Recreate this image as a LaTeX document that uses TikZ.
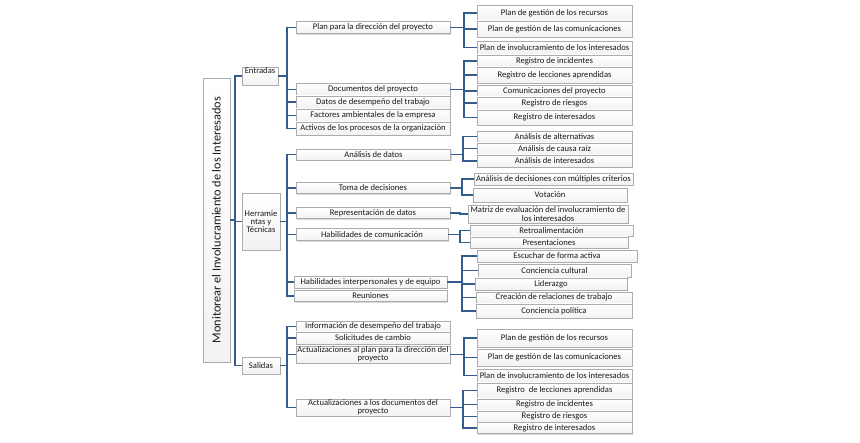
\documentclass[tikz,border=0pt]{standalone}
\usepackage{fontspec}
\usepackage{graphicx}
\setmainfont{Carlito}
\usetikzlibrary{shadows}
\definecolor{linkblue}{RGB}{52,92,140}

\begin{document}
\begin{tikzpicture}[x=1pt, y=-1pt,
    box/.style={draw=gray!65, top color=white, bottom color=gray!10,
        drop shadow={shadow xshift=1.3pt, shadow yshift=-1.3pt, fill=gray!60, opacity=0.5},
        font=\fontsize{8.6}{8.4}\selectfont, text=black!90, inner sep=0.6pt, align=center},
    mid/.style={box, minimum width=154pt},
    leaf/.style={box, minimum width=155pt},
    link/.style={draw=linkblue, line width=1.7pt}]
    \useasboundingbox (0,0) rectangle (860,443);

    % === ROOT (vertical title) ===
    \node[box, minimum width=27pt, minimum height=284pt, font=\fontsize{12.3}{14}\selectfont] (root) at (216.5,220)
        {\rotatebox{90}{Monitorear el Involucramiento de los Interesados}};

    % === LEVEL 1 ===
    \node[box, minimum width=36pt, minimum height=18pt, text height=5.8pt, text depth=10pt] (ent) at (260,76) {Entradas};
    \node[box, minimum width=38pt, minimum height=57pt] (herr) at (261,221.5) {Herramie\\ntas y\\Técnicas};
    \node[box, minimum width=38pt, minimum height=17pt] (sal) at (261,365.5) {Salidas};

    % === ENTRADAS ===
    \node[mid, minimum height=12pt] (pdp) at (373,27.5) {Plan para la dirección del proyecto};
    \node[mid, minimum height=13pt] (docs) at (373,89.5) {Documentos del proyecto};
    \node[mid, minimum height=12pt] (datos) at (373,102) {Datos de desempeño del trabajo};
    \node[mid, minimum height=13pt] (fact) at (373,115.5) {Factores ambientales de la empresa};
    \node[mid, minimum height=13pt] (activ) at (373,128.5) {Activos de los procesos de la organización};

    \node[leaf, minimum height=16pt] (rec1) at (554.5,13) {Plan de gestión de los recursos};
    \node[leaf, minimum height=16pt] (com1) at (554.5,29) {Plan de gestión de las comunicaciones};
    \node[leaf, minimum height=13pt] (inv1) at (554.5,47.5) {Plan de involucramiento de los interesados};
    \node[leaf, minimum height=12pt] (inc1) at (554.5,61) {Registro de incidentes};
    \node[leaf, minimum height=16pt] (lec1) at (554.5,75) {Registro de lecciones aprendidas};
    \node[leaf, minimum height=12pt] (comp) at (554.5,91) {Comunicaciones del proyecto};
    \node[leaf, minimum height=12pt] (rie1) at (554.5,103) {Registro de riesgos};
    \node[leaf, minimum height=15pt] (int1) at (554.5,117.5) {Registro de interesados};

    % === HERRAMIENTAS Y TECNICAS ===
    \node[mid, minimum height=11pt] (adat) at (373.5,154.5) {Análisis de datos};
    \node[mid, minimum height=11pt] (toma) at (373,188) {Toma de decisiones};
    \node[mid, minimum height=11pt] (repr) at (373,213) {Representación de datos};
    \node[mid, minimum width=152pt, minimum height=12pt] (hcom) at (372,234.5) {Habilidades de comunicación};
    \node[mid, minimum width=153pt, minimum height=12pt] (hint) at (370.5,282) {Habilidades interpersonales y de equipo};
    \node[mid, minimum width=153pt, minimum height=11pt] (reun) at (370.5,296) {Reuniones};

    \node[leaf, minimum height=11pt] (alt) at (554.5,136.5) {Análisis de alternativas};
    \node[leaf, minimum height=11pt] (causa) at (554.5,148.5) {Análisis de causa raíz};
    \node[leaf, minimum height=12pt] (aint) at (554.5,161) {Análisis de interesados};
    \node[leaf, minimum width=159pt, minimum height=12pt] (multi) at (553.5,179) {Análisis de decisiones con múltiples criterios};
    \node[leaf, minimum width=154pt, minimum height=14pt] (vot) at (550,195) {Votación};
    \node[leaf, minimum width=160pt, minimum height=18pt] (matriz) at (548,214) {Matriz de evaluación del involucramiento de\\los interesados};
    \node[leaf, minimum width=163pt, minimum height=11pt] (retro) at (551.5,230.5) {Retroalimentación};
    \node[leaf, minimum width=158pt, minimum height=11pt] (pres) at (549,242.5) {Presentaciones};
    \node[leaf, minimum width=160pt, minimum height=12pt] (escu) at (557,256) {Escuchar de forma activa};
    \node[leaf, minimum width=153pt, minimum height=13pt] (cult) at (554.5,270.5) {Conciencia cultural};
    \node[leaf, minimum width=152pt, minimum height=12pt] (lid) at (551,284) {Liderazgo};
    \node[leaf, minimum width=156pt, minimum height=11pt] (crea) at (554,297.5) {Creación de relaciones de trabajo};
    \node[leaf, minimum width=156pt, minimum height=14pt] (pol) at (554,311) {Conciencia política};

    % === SALIDAS ===
    \node[mid, minimum height=11pt] (info) at (373,326.5) {Información de desempeño del trabajo};
    \node[mid, minimum height=12pt] (solic) at (373,338) {Solicitudes de cambio};
    \node[mid, minimum height=17pt] (aplan) at (373,354.5) {Actualizaciones al plan para la dirección del\\proyecto};
    \node[mid, minimum height=17pt] (adocs) at (373,407.5) {Actualizaciones a los documentos del\\proyecto};

    \node[leaf, minimum height=18pt] (rec2) at (554.5,338) {Plan de gestión de los recursos};
    \node[leaf, minimum height=17pt] (com2) at (554.5,357.5) {Plan de gestión de las comunicaciones};
    \node[leaf, minimum height=13pt] (inv2) at (554.5,375.5) {Plan de involucramiento de los interesados};
    \node[leaf, minimum height=15pt] (lec2) at (554.5,390.5) {Registro\ \ de lecciones aprendidas};
    \node[leaf, minimum height=11pt] (inc2) at (554.5,404.5) {Registro de incidentes};
    \node[leaf, minimum height=11pt] (rie2) at (554.5,416.5) {Registro de riesgos};
    \node[leaf, minimum height=11pt] (int2) at (554.5,428) {Registro de interesados};

    % === CONNECTORS ===
    \draw[link] (root.east) -- ++(5,0) |- (ent.west)
        (root.east) -- ++(5,0) |- (herr.west)
        (root.east) -- ++(5,0) |- (sal.west);

    \draw[link] (ent.east) -- ++(9,0) |- (pdp.west)
        (ent.east) -- ++(9,0) |- (docs.west)
        (ent.east) -- ++(9,0) |- (datos.west)
        (ent.east) -- ++(9,0) |- (fact.west)
        (ent.east) -- ++(9,0) |- (activ.west);
    \draw[link] (herr.east) -- ++(7,0) |- (adat.west)
        (herr.east) -- ++(7,0) |- (toma.west)
        (herr.east) -- ++(7,0) |- (repr.west)
        (herr.east) -- ++(7,0) |- (hcom.west)
        (herr.east) -- ++(7,0) |- (hint.west)
        (herr.east) -- ++(7,0) |- (reun.west);
    \draw[link] (sal.east) -- ++(7,0) |- (info.west)
        (sal.east) -- ++(7,0) |- (solic.west)
        (sal.east) -- ++(7,0) |- (aplan.west)
        (sal.east) -- ++(7,0) |- (adocs.west);

    \draw[link] (pdp.east) -- ++(14,0) |- (rec1.west)
        (pdp.east) -- ++(14,0) |- (com1.west)
        (pdp.east) -- ++(14,0) |- (inv1.west);
    \draw[link] (docs.east) -- ++(14,0) |- (inc1.west)
        (docs.east) -- ++(14,0) |- (lec1.west)
        (docs.east) -- ++(14,0) |- (comp.west)
        (docs.east) -- ++(14,0) |- (rie1.west)
        (docs.east) -- ++(14,0) |- (int1.west);
    \draw[link] (adat.east) -- ++(12.5,0) |- (alt.west)
        (adat.east) -- ++(12.5,0) |- (causa.west)
        (adat.east) -- ++(12.5,0) |- (aint.west);
    \draw[link] (toma.east) -- ++(12,0) |- (multi.west)
        (toma.east) -- ++(12,0) |- (vot.west);
    \draw[link] (repr.east) -- ++(10,0) |- (matriz.west);
    \draw[link] (hcom.east) -- ++(12,0) |- (retro.west)
        (hcom.east) -- ++(12,0) |- (pres.west);
    \draw[link] (hint.east) -- ++(15,0) |- (escu.west)
        (hint.east) -- ++(15,0) |- (cult.west)
        (hint.east) -- ++(15,0) |- (lid.west)
        (hint.east) -- ++(15,0) |- (crea.west)
        (hint.east) -- ++(15,0) |- (pol.west);
    \draw[link] (aplan.east) -- ++(14,0) |- (rec2.west)
        (aplan.east) -- ++(14,0) |- (com2.west)
        (aplan.east) -- ++(14,0) |- (inv2.west);
    \draw[link] (adocs.east) -- ++(13,0) |- (lec2.west)
        (adocs.east) -- ++(13,0) |- (inc2.west)
        (adocs.east) -- ++(13,0) |- (rie2.west)
        (adocs.east) -- ++(13,0) |- (int2.west);

\end{tikzpicture}
\end{document}
